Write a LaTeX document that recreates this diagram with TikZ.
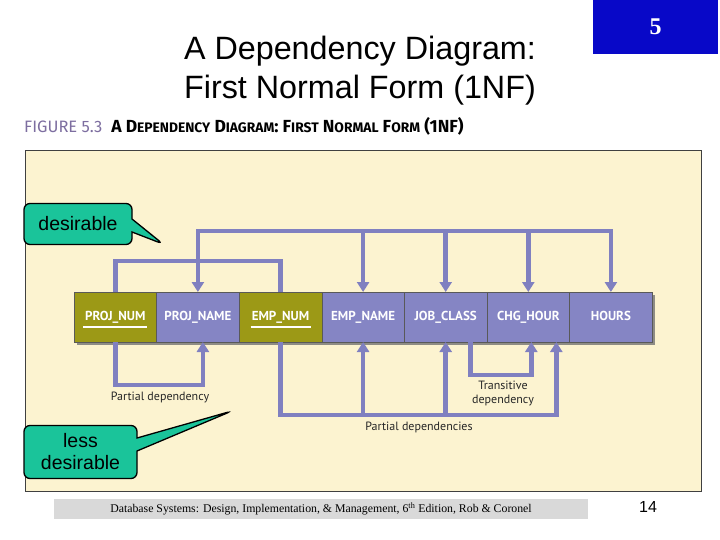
\documentclass[tikz,border=0pt]{standalone}
\usepackage{fontspec}
\setmainfont{Liberation Sans}
\newfontfamily\cellfont{PT Sans}
\newfontfamily\capfont{Fira Sans}
\newfontfamily\footfont{Liberation Serif}
\usetikzlibrary{arrows.meta,positioning,shapes.callouts,shadows}
\definecolor{panelbeige}{RGB}{252,243,208}
\definecolor{attrblue}{RGB}{133,133,196}
\definecolor{keyolive}{RGB}{156,153,22}
\definecolor{deplilac}{RGB}{128,128,192}
\definecolor{callteal}{RGB}{26,196,154}
\definecolor{slideblue}{RGB}{8,8,200}
\definecolor{figpurple}{RGB}{125,110,160}
\definecolor{footgray}{RGB}{217,217,217}
\newcommand\smallcap[1]{{\fontsize{13.8}{14}\selectfont #1}}

\begin{document}
\begin{tikzpicture}[x=1pt, y=-1pt,
      node distance=0pt,
      attr/.style={draw=black!65, line width=0.6pt, fill=attrblue, text=white,
                   font=\cellfont\bfseries\fontsize{13}{13}\selectfont,
                   text height=9.5pt, text depth=2.5pt,
                   minimum width=82.6pt, minimum height=50pt, inner sep=0pt, outer sep=0pt,
                   drop shadow={shadow xshift=3pt, shadow yshift=-3pt, fill=black!55, opacity=0.8}},
      keyattr/.style={attr, fill=keyolive},
      dep/.style={draw=deplilac, line width=4.5pt},
      arr/.style={dep, -{Triangle[length=10pt, width=12pt]}},
      deplabel/.style={font=\cellfont\fontsize{12}{14}\selectfont, text=black!85,
                       align=center, inner sep=1pt},
      callbox/.style={rectangle callout, draw=black, line width=1.3pt, fill=callteal,
                      rounded corners=6pt, font=\fontsize{19.5}{22}\selectfont,
                      align=center, inner sep=0pt, callout pointer width=13pt}]
    \useasboundingbox[fill=white] (0,0) rectangle (720,540);
    \node[fill=slideblue, minimum width=125pt, minimum height=54pt, inner sep=0pt,
          text=white, font=\footfont\bfseries\fontsize{24}{24}\selectfont] (slideno) at (655.5,27) {5};
    \node[align=center, font=\fontsize{32.3}{39}\selectfont] (title) at (360,71) {A Dependency Diagram:\\First Normal Form (1NF)};
    \node[anchor=west, inner sep=0pt, font=\capfont\fontsize{16.5}{17}\selectfont] (figcap) at (24,126)
      {{\color{figpurple}FIGURE 5.3}\hspace{9pt}{\fontsize{17.5}{18}\selectfont\bfseries A D\smallcap{EPENDENCY} D\smallcap{IAGRAM}: F\smallcap{IRST} N\smallcap{ORMAL} F\smallcap{ORM} (1NF)}};
    \draw[fill=panelbeige, draw=black!75, line width=1pt] (25,151) rectangle (701,491);

    \node[keyattr] (pnum) at (115.3,317) {PROJ\_NUM};
    \node[attr, right=of pnum] (pname) {PROJ\_NAME};
    \node[keyattr, right=of pname] (enum) {EMP\_NUM};
    \node[attr, right=of enum] (ename) {EMP\_NAME};
    \node[attr, right=of ename] (jclass) {JOB\_CLASS};
    \node[attr, right=of jclass] (chour) {CHG\_HOUR};
    \node[attr, right=of chour] (hours) {HOURS};
    \draw[white, line width=1.3pt] ([shift={(-32,10)}]pnum.center) -- ([shift={(32,10)}]pnum.center);
    \draw[white, line width=1.3pt] ([shift={(-30,10)}]enum.center) -- ([shift={(30,10)}]enum.center);

    \draw[dep] (pnum.north) -- ++(0,-31) -| (enum.north);
    \path (pname.north) ++(0,-61) coordinate (fdl);
    \draw[dep, line cap=rect] (fdl) -- (fdl -| hours.north);
    \foreach \a in {pname,ename,jclass,chour,hours}
      \draw[arr] (fdl -| \a.north) -- (\a.north);

    \draw[arr] (pnum.south) -- ++(0,43) -| ([xshift=5pt]pname.south);
    \draw[arr] (enum.south) -- ++(0,73) coordinate (pdl) -| ([xshift=28pt]chour.south);
    \draw[arr] (pdl -| ename.south) -- (ename.south);
    \draw[arr] (pdl -| jclass.south) -- (jclass.south);
    \draw[arr] ([xshift=25pt]jclass.south) -- ++(0,33) -| ([xshift=3pt]chour.south);
    \node[deplabel] (pdlab) at (160,397) {Partial dependency};
    \node[deplabel] (trlab) at (503,393) {Transitive\\dependency};
    \node[deplabel] (pdslab) at (419,427) {Partial dependencies};

    \node[callbox, minimum width=108pt, minimum height=41pt, callout absolute pointer={(163,244)}] (good) at (78,224) {desirable};
    \node[callbox, minimum width=113pt, minimum height=53pt, callout absolute pointer={(232,411)}] (bad) at (80.5,452) {less\\desirable};

    \node[fill=footgray, minimum width=534pt, minimum height=20pt, inner sep=0pt,
          font=\footfont\fontsize{11.8}{12}\selectfont] (footer) at (321,509)
      {Database Systems: Design, Implementation, \& Management, 6\textsuperscript{th} Edition, Rob \& Coronel};
    \node[font=\fontsize{16}{16}\selectfont] (pageno) at (648,507) {14};
  \end{tikzpicture}
\end{document}
